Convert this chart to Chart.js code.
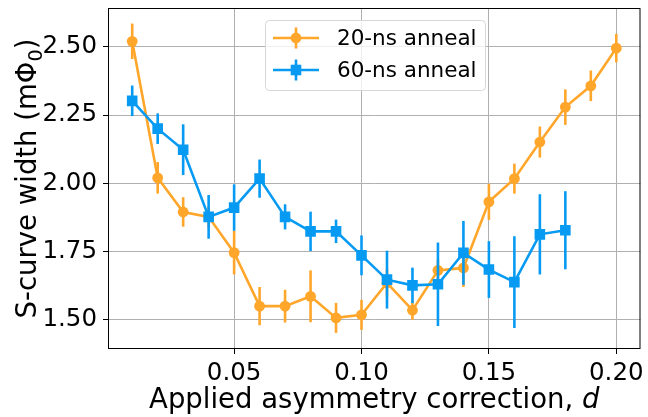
<!DOCTYPE html>
<html>
<head>
<meta charset="utf-8">
<script src="https://cdn.jsdelivr.net/npm/chart.js@4/dist/chart.umd.min.js"></script>
<style>
  html, body { margin: 0; padding: 0; background: #fff; }
  #wrap { width: 648px; height: 417px; position: relative; }
</style>
</head>
<body>
<div id="wrap"><canvas id="chart" width="648" height="417"></canvas></div>
<script>
// values
const dShort = [0.01, 0.02, 0.03, 0.04, 0.05, 0.06, 0.07, 0.08, 0.09, 0.10,
                0.11, 0.12, 0.13, 0.14, 0.15, 0.16, 0.17, 0.18, 0.19, 0.20];
const width20 = [2.52, 2.02, 1.895, 1.877, 1.746, 1.55, 1.55, 1.586, 1.507, 1.518,
                 1.635, 1.535, 1.681, 1.69, 1.932, 2.017, 2.151, 2.279, 2.357, 2.495];
const err20 = [0.065, 0.058, 0.054, 0.04, 0.08, 0.07, 0.06, 0.095, 0.055, 0.055,
               0.05, 0.035, 0.04, 0.07, 0.066, 0.055, 0.057, 0.065, 0.056, 0.052];

const dLong = [0.01, 0.02, 0.03, 0.04, 0.05, 0.06, 0.07, 0.08, 0.09, 0.10,
               0.11, 0.12, 0.13, 0.14, 0.15, 0.16, 0.17, 0.18];
const width60 = [2.302, 2.200, 2.123, 1.877, 1.911, 2.017, 1.877, 1.824, 1.824, 1.736,
                 1.647, 1.626, 1.63, 1.745, 1.684, 1.638, 1.813, 1.828];
const err60 = [0.056, 0.056, 0.093, 0.08, 0.085, 0.07, 0.046, 0.072, 0.043, 0.073,
               0.106, 0.065, 0.153, 0.117, 0.104, 0.168, 0.147, 0.143];

const xTicks = [0.05, 0.10, 0.15, 0.20];
const yTicks = [1.50, 1.75, 2.00, 2.25, 2.50];

const seriesNames = ['20-ns anneal', '60-ns anneal'];
const ORANGE = '#ffa62b';
const BLUE = '#069af3';
const FONT = 'DejaVu Sans';
const TITLE_PX = 27.5;

const points = (xs, ys) => xs.map((x, i) => ({ x: x, y: ys[i] }));
const font = (px, style) => (style ? style + ' ' : '') + px + 'px "' + FONT + '"';

// vertical error bars, drawn just under each dataset's own line
const errorBars = {
  id: 'errorBars',
  beforeDatasetDraw(chart, args) {
    const ds = chart.data.datasets[args.index];
    const xs = chart.scales.x, ys = chart.scales.y;
    const ctx = chart.ctx;
    ctx.save();
    ctx.strokeStyle = ds.borderColor;
    ctx.lineWidth = 2.6;
    ds.data.forEach((p, i) => {
      const px = xs.getPixelForValue(p.x);
      ctx.beginPath();
      ctx.moveTo(px, ys.getPixelForValue(p.y + ds.errors[i]));
      ctx.lineTo(px, ys.getPixelForValue(p.y - ds.errors[i]));
      ctx.stroke();
    });
    ctx.restore();
  }
};

// frame, axis titles and matplotlib-like legend
const decorations = {
  id: 'decorations',
  afterDraw(chart) {
    const ctx = chart.ctx;
    const a = chart.chartArea;
    ctx.save();
    ctx.strokeStyle = '#000';
    ctx.lineWidth = 1;
    ctx.strokeRect(a.left + 0.5, a.top + 0.5, a.right - a.left - 1, a.bottom - a.top - 1);

    // x title with italic d
    ctx.fillStyle = '#000';
    ctx.textBaseline = 'alphabetic';
    ctx.textAlign = 'left';
    const t1 = 'Applied asymmetry correction, ';
    const t2 = 'd';
    ctx.font = font(TITLE_PX);
    const w1 = ctx.measureText(t1).width;
    ctx.font = font(TITLE_PX, 'italic');
    const w2 = ctx.measureText(t2).width;
    const x0 = (a.left + a.right) / 2 - (w1 + w2) / 2;
    ctx.font = font(TITLE_PX);
    ctx.fillText(t1, x0, 408);
    ctx.font = font(TITLE_PX, 'italic');
    ctx.fillText(t2, x0 + w1, 408);

    // y title with subscript
    ctx.save();
    ctx.translate(36, (a.top + a.bottom) / 2);
    ctx.rotate(-Math.PI / 2);
    const y1 = 'S-curve width (mΦ';
    const ysub = '0';
    const y3 = ')';
    const subPx = TITLE_PX * 0.7;
    ctx.font = font(TITLE_PX);
    const wa = ctx.measureText(y1).width;
    const wc = ctx.measureText(y3).width;
    ctx.font = font(subPx);
    const wb = ctx.measureText(ysub).width;
    const sx = -(wa + wb + wc) / 2;
    ctx.font = font(TITLE_PX);
    ctx.fillText(y1, sx, 0);
    ctx.font = font(subPx);
    ctx.fillText(ysub, sx + wa, 5.5);
    ctx.font = font(TITLE_PX);
    ctx.fillText(y3, sx + wa + wb, 0);
    ctx.restore();

    // legend
    const lx = 265.5, ly = 20.5, lw = 220, lh = 70;
    ctx.beginPath();
    ctx.roundRect(lx, ly, lw, lh, 4);
    ctx.fillStyle = 'rgba(255,255,255,0.8)';
    ctx.fill();
    ctx.strokeStyle = '#d6d6d6';
    ctx.lineWidth = 1;
    ctx.stroke();
    const rows = [38, 70];
    ctx.textBaseline = 'middle';
    chart.data.datasets.forEach((ds, i) => {
      const ry = rows[i];
      ctx.strokeStyle = ds.borderColor;
      ctx.fillStyle = ds.borderColor;
      ctx.lineWidth = 2.6;
      ctx.beginPath();
      ctx.moveTo(273, ry); ctx.lineTo(319, ry);
      ctx.moveTo(296, ry - 10.5); ctx.lineTo(296, ry + 10.5);
      ctx.stroke();
      if (ds.pointStyle === 'rect') {
        ctx.fillRect(296 - 5.3, ry - 5.3, 10.6, 10.6);
      } else {
        ctx.beginPath();
        ctx.arc(296, ry, 5.4, 0, Math.PI * 2);
        ctx.fill();
      }
      ctx.fillStyle = '#000';
      ctx.font = font(21.5);
      ctx.fillText(seriesNames[i], 337, ry + 1);
    });
    ctx.restore();
  }
};

new Chart(document.getElementById('chart'), {
  type: 'line',
  data: {
    datasets: [{
      label: seriesNames[0],
      data: points(dShort, width20),
      errors: err20,
      borderColor: ORANGE,
      backgroundColor: ORANGE,
      borderWidth: 2.6,
      pointStyle: 'circle',
      pointRadius: 5.4,
      pointBorderWidth: 0,
      order: 2
    }, {
      label: seriesNames[1],
      data: points(dLong, width60),
      errors: err60,
      borderColor: BLUE,
      backgroundColor: BLUE,
      borderWidth: 2.6,
      pointStyle: 'rect',
      pointRadius: 7.5,
      pointBorderWidth: 0,
      order: 1
    }]
  },
  options: {
    responsive: false,
    animation: false,
    devicePixelRatio: 1,
    layout: { padding: { top: 8, right: 6, left: 0, bottom: 0 } },
    plugins: { legend: { display: false }, tooltip: { enabled: false } },
    scales: {
      x: {
        type: 'linear',
        min: 0.0005,
        max: 0.2095,
        afterFit: s => { s.height = 68; s.paddingLeft = 0; s.paddingRight = 0; },
        afterBuildTicks: s => { s.ticks = xTicks.map(v => ({ value: v })); },
        grid: { color: '#b0b0b0', lineWidth: 1, tickColor: '#000', tickLength: 5 },
        border: { display: false },
        ticks: {
          color: '#000',
          font: { family: FONT, size: 24.5 },
          padding: 5,
          maxRotation: 0,
          autoSkip: false,
          callback: v => v.toFixed(2)
        }
      },
      y: {
        type: 'linear',
        min: 1.393,
        max: 2.642,
        afterFit: s => { s.width = 108; s.paddingTop = 0; s.paddingBottom = 0; },
        afterBuildTicks: s => { s.ticks = yTicks.map(v => ({ value: v })); },
        grid: { color: '#b0b0b0', lineWidth: 1, tickColor: '#000', tickLength: 5 },
        border: { display: false },
        ticks: {
          color: '#000',
          font: { family: FONT, size: 24.5 },
          padding: 6,
          autoSkip: false,
          callback: v => v.toFixed(2)
        }
      }
    }
  },
  plugins: [errorBars, decorations]
});
</script>
</body>
</html>
